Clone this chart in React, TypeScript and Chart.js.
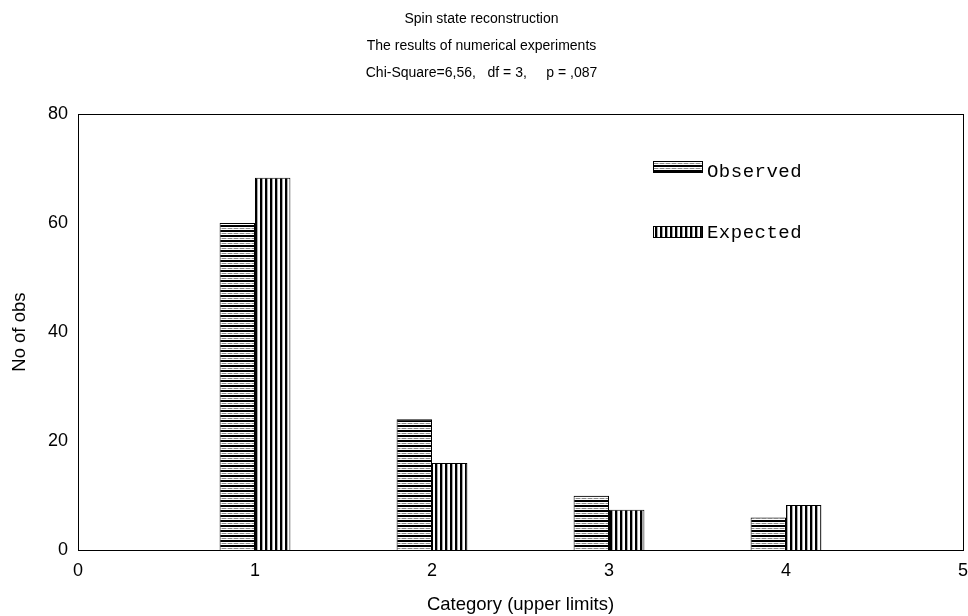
import React, { useEffect, useRef } from "react";
import { Chart, registerables } from "chart.js";

Chart.register(...registerables);

const categories = [1, 2, 3, 4];
const observed = [60, 24, 10, 6];
const expected = [68.3, 16.0, 7.4, 8.3];
const titleLines = [
  "Spin state reconstruction",
  "The results of numerical experiments",
  "Chi-Square=6,56,   df = 3,     p = ,087",
];
const legendLabels = ["Observed", "Expected"];
const xTitle = "Category (upper limits)";
const yTitle = "No of obs";

const SANS = "'Liberation Sans', Arial, sans-serif";

function makeHPattern(): CanvasPattern | string {
  const c = document.createElement("canvas");
  c.width = 6;
  c.height = 5;
  const g = c.getContext("2d");
  if (!g) return "#000";
  g.fillStyle = "#fff";
  g.fillRect(0, 0, 6, 5);
  g.fillStyle = "#000";
  g.fillRect(0, 0, 6, 2);
  g.fillStyle = "#8a8a8a";
  g.fillRect(0, 3, 4, 1);
  g.fillStyle = "#c8c8c8";
  g.fillRect(4, 3, 2, 1);
  return g.createPattern(c, "repeat") || "#000";
}

function makeVPattern(): CanvasPattern | string {
  const c = document.createElement("canvas");
  c.width = 5;
  c.height = 4;
  const g = c.getContext("2d");
  if (!g) return "#000";
  g.fillStyle = "#fff";
  g.fillRect(0, 0, 5, 4);
  g.fillStyle = "#000";
  g.fillRect(0, 0, 2, 4);
  g.fillStyle = "#aaa";
  g.fillRect(2, 0, 1, 4);
  return g.createPattern(c, "repeat") || "#000";
}

export default function App() {
  const ref = useRef<HTMLCanvasElement | null>(null);

  useEffect(() => {
    document.body.style.margin = "0";
    const canvas = ref.current;
    if (!canvas) return;
    const hPat = makeHPattern();
    const vPat = makeVPattern();
    const patterns = [hPat, vPat];

    const framePlugin = {
      id: "frameAndLegend",
      afterDraw(chart: any) {
        const { ctx, chartArea } = chart;
        const xs = chart.scales.x;
        const ys = chart.scales.y;
        ctx.save();
        ctx.strokeStyle = "#000";
        ctx.lineWidth = 1;
        ctx.strokeRect(
          Math.round(chartArea.left) + 0.5,
          Math.round(chartArea.top) + 0.5,
          Math.round(chartArea.right - chartArea.left),
          Math.round(chartArea.bottom - chartArea.top)
        );
        // legend inside plot area
        const boxL = xs.getPixelForValue(3.25);
        const boxR = xs.getPixelForValue(3.525);
        const tops = [71.4, 59.4];
        const bots = [69.3, 57.4];
        const bases = [68.4, 57.2];
        ctx.font = "19px 'Liberation Mono', 'Courier New', monospace";
        (ctx as any).letterSpacing = "0.5px";
        ctx.textBaseline = "alphabetic";
        ctx.textAlign = "left";
        for (let i = 0; i < 2; i++) {
          const t = Math.round(ys.getPixelForValue(tops[i]));
          const b = Math.round(ys.getPixelForValue(bots[i]));
          ctx.fillStyle = patterns[i] as any;
          ctx.fillRect(boxL, t, boxR - boxL, b - t);
          ctx.strokeStyle = "#000";
          ctx.strokeRect(Math.round(boxL) + 0.5, t + 0.5, Math.round(boxR - boxL), b - t);
          ctx.fillStyle = "#000";
          ctx.fillText(legendLabels[i], boxR + 5, ys.getPixelForValue(bases[i]));
        }
        ctx.restore();
      },
    };

    const chart = new Chart(canvas, {
      type: "bar",
      data: {
        datasets: [
          {
            label: legendLabels[0],
            data: categories.map((c, i) => ({ x: c, y: observed[i] })),
            backgroundColor: hPat as any,
            borderColor: "#000",
            borderWidth: 1,
          },
          {
            label: legendLabels[1],
            data: categories.map((c, i) => ({ x: c, y: expected[i] })),
            backgroundColor: vPat as any,
            borderColor: "#000",
            borderWidth: 1,
          },
        ],
      },
      options: {
        animation: false,
        responsive: false,
        devicePixelRatio: 1,
        categoryPercentage: 0.4,
        barPercentage: 1.0,
        layout: { padding: { left: 0, right: 5, top: 0, bottom: 0 } },
        plugins: {
          legend: { display: false },
          tooltip: { enabled: false },
          title: {
            display: true,
            text: titleLines,
            color: "#000",
            font: { family: SANS, size: 14, weight: "normal", lineHeight: 1.93 },
            padding: { top: 6, bottom: 27 },
          },
        },
        scales: {
          x: {
            type: "linear",
            min: 0,
            max: 5,
            offset: false,
            grid: { display: false, drawTicks: false, offset: false },
            border: { display: false },
            ticks: {
              stepSize: 1,
              color: "#000",
              padding: 10,
              font: { family: SANS, size: 18 },
            },
            title: {
              display: true,
              text: xTitle,
              color: "#000",
              font: { family: SANS, size: 18.5 },
              padding: { top: 2, bottom: 0 },
            },
            afterFit(scale: any) {
              scale.paddingRight = 0;
              scale.paddingLeft = 0;
            },
          },
          y: {
            min: 0,
            max: 80,
            grid: { display: false, drawTicks: false },
            border: { display: false },
            ticks: {
              stepSize: 20,
              color: "#000",
              padding: 10,
              font: { family: SANS, size: 18 },
            },
            title: {
              display: true,
              text: yTitle,
              color: "#000",
              font: { family: SANS, size: 18.5 },
              padding: { top: 9, bottom: 0 },
            },
            afterFit(scale: any) {
              scale.width = 78;
            },
          },
        },
      },
      plugins: [framePlugin],
    });
    return () => chart.destroy();
  }, []);

  return (
    <div style={{ width: 968, height: 616, background: "#fff" }}>
      <canvas ref={ref} width={968} height={616} style={{ display: "block" }} />
    </div>
  );
}
